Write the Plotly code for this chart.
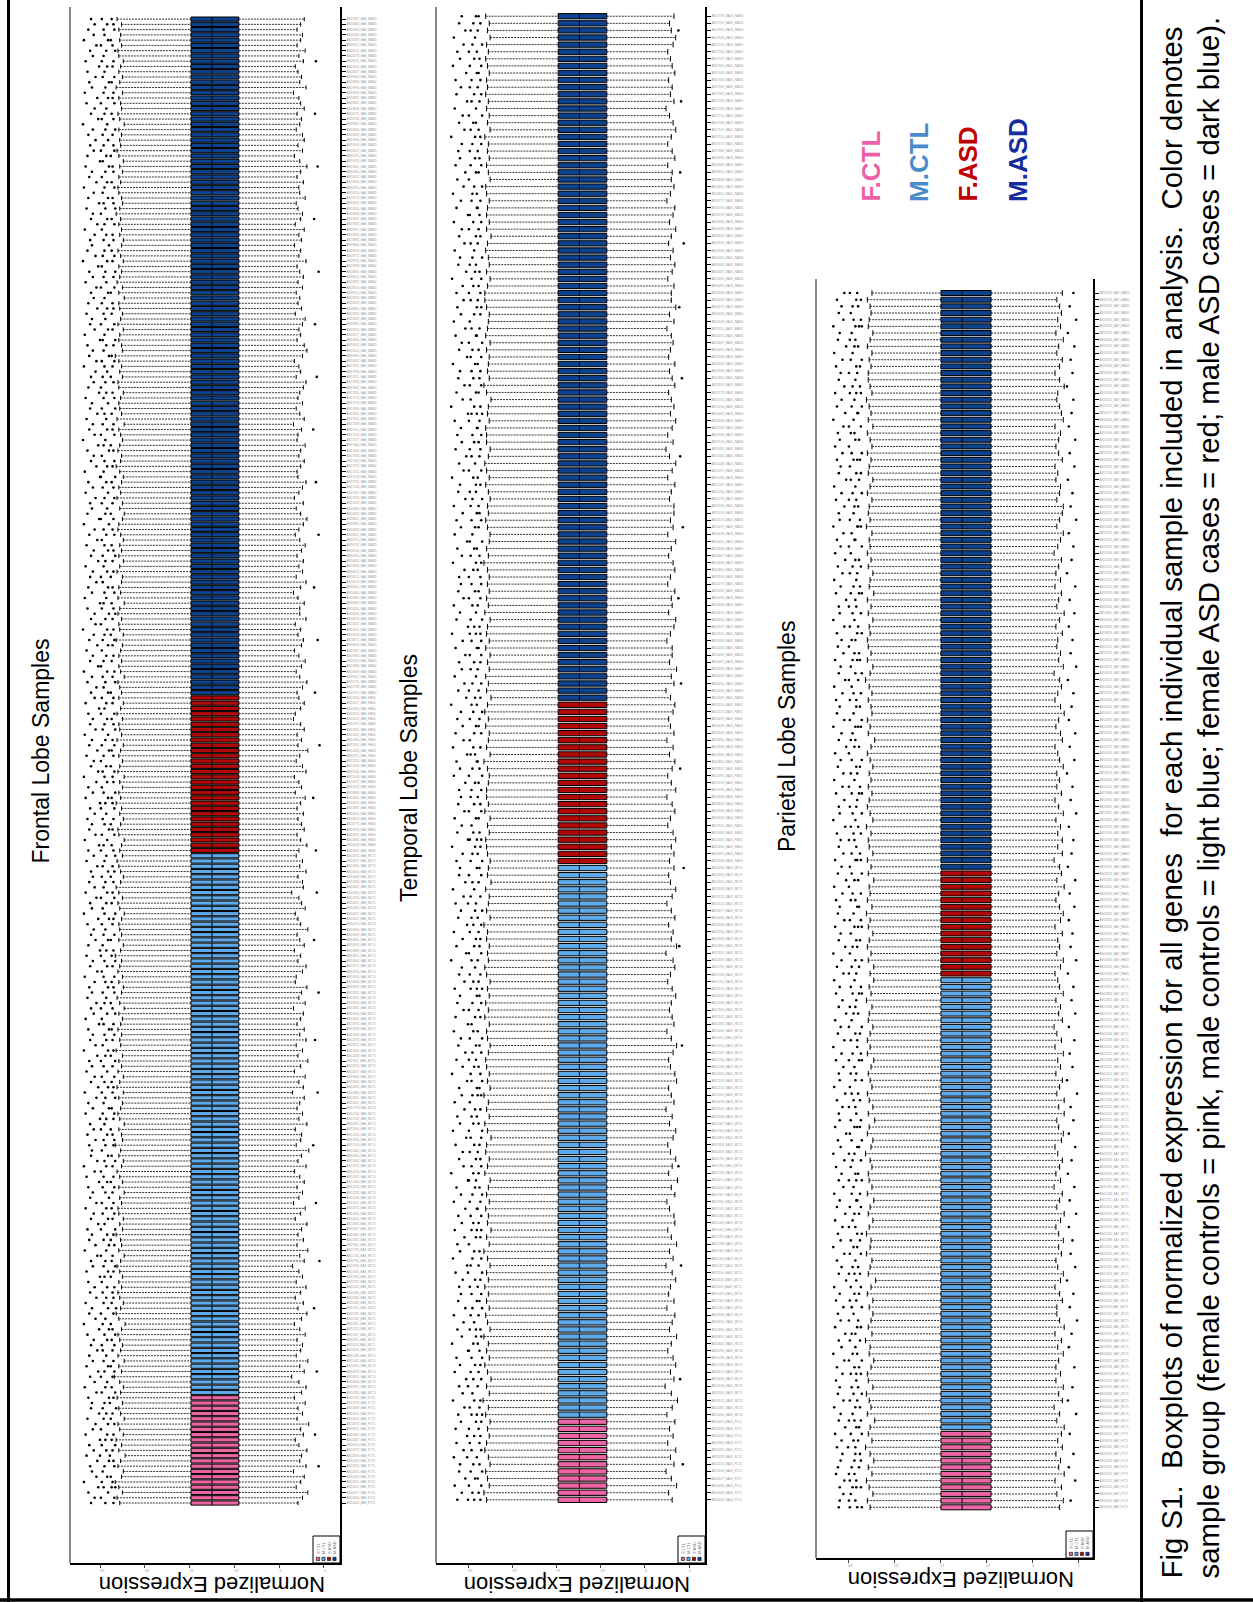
import plotly.graph_objects as go

W, H = 1253, 1602


def px(x):
    return x / W


def py(y):
    return 1 - y / H


GROUPS = ["F.CTL", "M.CTL", "F.ASD", "M.ASD"]
BOX_COLORS = {"F.CTL": "#EC64A4", "M.CTL": "#5DA9EA", "F.ASD": "#B20808", "M.ASD": "#0D428F"}
LABEL_COLORS = {"F.CTL": "#EE5FA8", "M.CTL": "#4A8CCB", "F.ASD": "#C00000", "M.ASD": "#142C9C"}
VALUE_TICKS = [0, 5, 10, 15, 20, 25]

PANEL_TITLES = ["Frontal Lobe Samples", "Temporal Lobe Samples", "Parietal Lobe Samples"]
REGION_CODES = ["BA9", "BA41", "BA7"]

# ---------------- Frontal ----------------
FRONTAL_COUNTS = [21, 103, 30, 129]
FRONTAL_BOX = [9.5, 12.5, 14.85]   # q1, median, q3
FRONTAL_UPPER = [
    22.8, 23.1, 22.5, 22.9, 23.3, 22.6, 22.4, 23.0, 22.7, 22.2,
    22.9, 22.6, 23.2, 22.4, 22.8, 23.0, 22.3, 22.7, 22.9, 22.5,
    23.1, 22.7, 22.4, 22.8, 23.4, 22.6, 22.9, 22.3, 23.0, 22.7,
    22.5, 22.8, 23.0, 22.6, 22.2, 22.9, 23.2, 22.7, 22.4, 22.8,
    23.0, 22.6, 22.9, 22.5, 22.8, 23.1, 22.7, 22.3, 22.9, 22.6,
    22.7, 23.2, 22.5, 22.8, 22.4, 22.9, 23.0, 22.6, 22.8, 22.3,
    22.9, 22.5, 22.8, 23.1, 22.6, 22.4, 22.9, 22.7, 23.3, 22.5,
    22.6, 22.9, 22.3, 22.8, 23.0, 22.7, 22.5, 22.9, 22.4, 23.1,
    22.8, 22.4, 23.0, 22.6, 22.9, 22.5, 23.2, 22.7, 22.8, 22.6,
    23.0, 22.7, 22.5, 22.9, 22.3, 22.8, 23.1, 22.6, 22.4, 22.9,
    22.5, 23.0, 22.8, 22.6, 23.3, 22.7, 22.4, 22.9, 22.6, 22.8,
    22.9, 22.6, 22.3, 22.8, 23.0, 22.5, 22.9, 23.2, 22.7, 22.4,
    22.7, 22.9, 23.1, 22.5, 22.8, 22.6, 22.3, 22.9, 23.0, 22.7,
    22.4, 22.8, 22.6, 23.2, 22.7, 22.9, 22.5, 22.8, 22.3, 23.0,
    22.8, 22.5, 22.9, 22.7, 22.4, 23.1, 22.6, 22.8, 22.9, 22.5,
    23.1, 22.7, 22.4, 22.9, 22.6, 22.8, 23.0, 22.3, 22.7, 22.9,
    22.6, 22.9, 22.7, 22.5, 23.2, 22.4, 22.8, 22.9, 22.6, 23.0,
    22.8, 22.3, 23.0, 22.7, 22.9, 22.6, 22.5, 23.1, 22.8, 22.4,
    22.9, 22.6, 22.8, 22.4, 22.7, 23.0, 22.9, 22.5, 22.3, 22.8,
    22.5, 23.1, 22.7, 22.9, 22.6, 22.4, 22.8, 23.2, 22.7, 22.6,
    23.0, 22.8, 22.5, 22.7, 22.9, 22.3, 23.1, 22.6, 22.8, 22.9,
    22.7, 22.4, 22.9, 23.0, 22.5, 22.8, 22.6, 22.9, 23.3, 22.5,
    22.6, 22.9, 22.8, 22.4, 23.0, 22.7, 22.5, 22.8, 22.9, 22.3,
    22.9, 22.5, 23.1, 22.8, 22.6, 22.9, 22.4, 22.7, 23.0, 22.6,
    22.4, 22.8, 22.6, 22.9, 22.7, 23.2, 22.8, 22.5, 22.6, 22.9,
    23.0, 22.7, 22.9, 22.5, 22.8, 22.4, 22.9, 23.1, 22.7, 22.8,
    22.6, 22.9, 22.3, 22.8, 23.0, 22.6, 22.7, 22.9, 22.5, 23.2,
    22.8, 22.5, 22.9, 22.7, 22.4, 22.9, 23.0, 22.6, 22.8, 22.7,
    22.9, 22.6, 23.1,
]
FRONTAL_LOWER = [
    2.9, 2.4, 1.8, 3.1, 2.6, 2.2, 3.4, 2.0, 2.7, 2.5,
    1.9, 2.8, 3.2, 2.3, 2.6, 1.7, 3.0, 2.4, 2.9, 2.1,
    3.3, 2.5, 2.0, 2.8, 3.6, 2.2, 2.7, 1.8, 3.1, 2.6,
    2.4, 3.0, 2.1, 2.7, 3.3, 2.5, 1.9, 2.9, 2.3, 3.2,
    2.6, 2.0, 3.1, 2.4, 2.8, 3.5, 2.2, 2.7, 1.8, 3.0,
    2.3, 2.9, 2.5, 1.9, 3.2, 2.6, 2.1, 3.4, 2.8, 2.4,
    3.0, 2.2, 2.7, 3.3, 2.0, 2.9, 2.5, 1.7, 3.1, 2.6,
    2.5, 3.2, 1.9, 2.8, 2.4, 3.0, 2.7, 2.2, 3.5, 2.3,
    2.8, 2.1, 3.3, 2.6, 1.8, 2.9, 2.4, 3.1, 2.0, 2.7,
    2.2, 3.0, 2.6, 2.3, 3.4, 2.1, 2.8, 2.5, 1.9, 3.2,
    3.1, 2.4, 2.0, 2.9, 2.6, 3.3, 2.2, 2.7, 3.0, 1.8,
    2.6, 2.9, 3.2, 2.1, 2.5, 2.8, 3.6, 2.3, 2.4, 2.9,
    2.0, 2.7, 2.4, 3.1, 2.8, 1.9, 2.6, 3.0, 2.2, 2.5,
    2.9, 2.3, 3.0, 2.6, 2.1, 3.2, 2.5, 2.8, 3.3, 2.0,
    2.4, 3.1, 2.7, 1.8, 2.9, 2.5, 3.0, 2.2, 2.6, 3.4,
    3.2, 2.6, 2.2, 2.8, 3.0, 2.4, 1.9, 2.7, 3.1, 2.5,
    2.1, 2.8, 3.3, 2.5, 2.3, 2.9, 2.6, 3.2, 2.0, 2.7,
    2.7, 2.2, 2.9, 3.4, 2.6, 2.0, 3.1, 2.4, 2.8, 2.3,
    3.0, 2.5, 2.1, 2.7, 3.2, 2.8, 2.3, 1.9, 2.6, 3.1,
    2.3, 3.3, 2.8, 2.4, 2.0, 2.9, 3.0, 2.6, 2.2, 2.8,
    2.6, 2.1, 3.0, 2.9, 2.5, 3.4, 2.2, 2.7, 3.1, 2.4,
    2.9, 2.7, 2.3, 2.0, 3.1, 2.6, 2.8, 3.3, 2.4, 1.9,
    2.2, 3.0, 2.6, 2.8, 2.4, 2.1, 3.2, 2.5, 2.9, 2.7,
    3.1, 2.4, 2.9, 2.3, 2.7, 3.0, 2.0, 2.8, 2.6, 3.3,
    2.5, 2.8, 2.2, 3.2, 2.6, 2.4, 2.9, 3.1, 2.1, 2.7,
    2.8, 2.3, 3.0, 2.6, 1.9, 2.7, 3.3, 2.4, 2.9, 2.2,
    2.4, 3.1, 2.7, 2.5, 3.0, 2.2, 2.6, 2.8, 3.4, 2.0,
    2.7, 2.5, 2.9, 3.2, 2.3, 2.8, 2.1, 3.0, 2.6, 2.4,
    3.0, 2.6, 2.2,
]
FRONTAL_OUTLIERS = [
    [26.0, 24.4, 23.5], [25.6, 24.9, 23.4], [26.3, 24.1], [25.2, 24.6, 23.7, 23.3], [26.8, 24.8, 23.6], [25.4, 24.2, 23.8], [25.9, 24.7], [26.1, 24.5, 23.4, 0.6], [25.3, 24.0, 23.5], [26.5, 25.0, 23.9],
    [25.7, 24.3, 23.6], [26.2, 24.8, 23.3], [25.0, 24.4, 23.7], [26.6, 24.2, 23.5, 1.0], [25.8, 24.9], [25.5, 24.1, 23.4], [26.4, 24.6, 23.8], [25.1, 24.3, 23.6], [26.0, 24.7, 23.2], [25.9, 24.5, 23.9],
    [26.3, 24.0, 23.5], [25.4, 24.8, 23.3], [26.7, 24.4, 23.7], [25.6, 24.2], [26.1, 24.9, 23.6], [25.2, 24.5, 23.4, 0.8], [26.5, 24.1, 23.8], [25.8, 24.6, 23.5], [26.2, 24.3], [25.3, 24.7, 23.6],
    [26.0, 24.8, 23.4], [25.7, 24.2, 23.7], [26.4, 24.5, 23.3], [25.1, 24.0, 23.6], [26.8, 24.7, 23.8], [25.5, 24.4], [26.2, 24.9, 23.5], [25.9, 24.1, 23.2, 1.1], [26.6, 24.6, 23.7], [25.4, 24.3, 23.5],
    [26.1, 24.7, 23.6], [25.6, 24.2, 23.4], [26.3, 24.8], [25.0, 24.5, 23.8], [26.5, 24.1, 23.5], [25.8, 24.6, 23.3], [26.0, 24.4, 23.7, 0.5], [25.3, 24.9, 23.6], [26.7, 24.3], [25.5, 24.0, 23.4],
    [26.2, 24.6, 23.8], [25.9, 24.2, 23.5], [26.4, 24.9, 23.3], [25.2, 24.5], [26.0, 24.1, 23.6], [25.7, 24.7, 23.4], [26.6, 24.3, 23.7], [25.4, 24.8, 23.5, 0.9], [26.1, 24.0], [25.8, 24.4, 23.6],
    [26.3, 24.7, 23.4], [25.1, 24.2, 23.8], [26.5, 24.6, 23.5], [25.6, 24.9], [26.8, 24.3, 23.6], [25.3, 24.5, 23.3], [26.0, 24.1, 23.7], [25.9, 24.8], [26.2, 24.4, 23.5, 1.2], [25.5, 24.6, 23.4],
    [26.4, 24.2, 23.6], [25.7, 24.9, 23.8], [26.1, 24.5], [25.0, 24.3, 23.5], [26.6, 24.7, 23.4], [25.8, 24.0, 23.7], [26.3, 24.6], [25.4, 24.4, 23.3], [26.7, 24.8, 23.6, 0.7], [25.2, 24.1, 23.5],
    [26.0, 24.5, 23.7], [25.6, 24.8, 23.4], [26.5, 24.2], [25.9, 24.6, 23.6], [26.2, 24.9, 23.3], [25.3, 24.4, 23.8], [26.8, 24.1, 23.5], [25.5, 24.7], [26.1, 24.3, 23.6, 1.0], [25.8, 24.5, 23.4],
    [26.3, 24.0, 23.7], [25.1, 24.6, 23.5], [26.6, 24.8], [25.7, 24.2, 23.3], [26.0, 24.9, 23.6], [25.4, 24.5, 23.8], [26.4, 24.3], [25.9, 24.7, 23.4, 0.6], [26.2, 24.1, 23.5], [25.6, 24.4, 23.7],
    [26.7, 24.6, 23.4], [25.3, 24.8], [26.1, 24.2, 23.6], [25.8, 24.5, 23.3], [26.5, 24.9, 23.7], [25.0, 24.3, 23.5], [26.3, 24.7], [25.5, 24.1, 23.8, 1.1], [26.0, 24.6, 23.4], [25.7, 24.4],
    [26.4, 24.8, 23.6], [25.2, 24.0, 23.5], [26.8, 24.5, 23.3], [25.9, 24.7], [26.1, 24.3, 23.7], [25.4, 24.9, 23.4], [26.6, 24.2, 23.6, 0.8], [25.6, 24.6], [26.2, 24.4, 23.5], [25.8, 24.8, 23.8],
    [26.0, 24.1, 23.4], [25.3, 24.7, 23.6], [26.5, 24.5], [25.7, 24.3, 23.3], [26.3, 24.9, 23.5, 0.9], [25.1, 24.6, 23.7], [26.7, 24.2], [25.5, 24.8, 23.4], [26.2, 24.0, 23.6], [25.9, 24.5, 23.8],
    [26.4, 24.7, 23.5], [25.6, 24.3], [26.1, 24.9, 23.4], [25.0, 24.4, 23.6], [26.6, 24.1, 23.7, 1.2], [25.8, 24.6, 23.3], [26.3, 24.8], [25.4, 24.2, 23.5], [26.8, 24.5, 23.6], [25.2, 24.7, 23.4],
    [26.0, 24.3, 23.8], [25.7, 24.9], [26.5, 24.6, 23.5], [25.3, 24.0, 23.7], [26.2, 24.8, 23.4, 0.5], [25.9, 24.4, 23.6], [26.7, 24.1], [25.5, 24.7, 23.3], [26.1, 24.5, 23.5], [25.8, 24.2, 23.7],
    [26.3, 24.9, 23.4], [25.1, 24.5], [26.6, 24.3, 23.6], [25.6, 24.8, 23.5], [26.0, 24.1, 23.8, 1.0], [25.4, 24.6], [26.4, 24.4, 23.3], [25.9, 24.7, 23.6], [26.8, 24.2, 23.4], [25.2, 24.9],
    [26.1, 24.6, 23.7], [25.8, 24.3, 23.5], [26.5, 24.8], [25.3, 24.1, 23.6], [26.2, 24.7, 23.4, 0.7], [25.7, 24.5, 23.8], [26.9, 24.2, 23.5], [25.5, 24.9], [26.0, 24.4, 23.6], [25.6, 24.0, 23.3],
    [26.4, 24.8, 23.5], [25.0, 24.6, 23.7], [26.7, 24.3], [25.9, 24.5, 23.4], [26.3, 24.1, 23.6, 1.1], [25.4, 24.7], [26.1, 24.9, 23.8], [25.8, 24.2, 23.5], [26.6, 24.6], [25.2, 24.4, 23.6],
    [26.0, 24.7, 23.3], [25.7, 24.1, 23.5], [26.5, 24.5, 23.7], [25.3, 24.8], [26.2, 24.3, 23.4, 0.6], [25.6, 24.6, 23.6], [26.8, 24.0], [25.1, 24.9, 23.5], [26.4, 24.4, 23.8], [25.9, 24.2],
    [26.1, 24.8, 23.6], [25.5, 24.5, 23.4], [26.6, 24.1], [25.8, 24.7, 23.5], [26.3, 24.3, 23.7, 0.9], [25.0, 24.9, 23.3], [26.7, 24.6], [25.4, 24.2, 23.6], [26.0, 24.5, 23.4], [25.7, 24.8],
    [26.4, 24.0, 23.5], [25.2, 24.6, 23.8], [26.9, 24.4], [25.6, 24.9, 23.4], [26.2, 24.2, 23.6, 1.2], [25.8, 24.7, 23.5], [26.5, 24.3], [25.3, 24.5, 23.7], [26.1, 24.8, 23.3], [25.9, 24.1],
    [26.6, 24.6, 23.4], [25.1, 24.3, 23.6], [26.3, 24.9], [25.7, 24.4, 23.5], [26.0, 24.7, 23.8, 0.8], [25.5, 24.2], [26.8, 24.5, 23.6], [25.4, 24.8, 23.4], [26.2, 24.0, 23.7], [25.8, 24.6],
    [26.4, 24.3, 23.5], [25.0, 24.7, 23.3], [26.7, 24.5], [25.6, 24.1, 23.6], [26.1, 24.9, 23.4, 1.0], [25.9, 24.4], [26.5, 24.6, 23.7], [25.3, 24.2, 23.5], [26.3, 24.8, 23.6], [25.7, 24.5],
    [26.0, 24.1, 23.8], [25.4, 24.9, 23.4], [26.6, 24.3], [25.8, 24.6, 23.5], [26.2, 24.4, 23.3, 0.6], [25.2, 24.8], [26.9, 24.2, 23.6], [25.5, 24.7, 23.4], [26.4, 24.5, 23.7], [25.9, 24.0],
    [26.1, 24.6, 23.5], [25.6, 24.3, 23.6], [26.7, 24.8], [25.3, 24.5, 23.4], [26.0, 24.2, 23.7, 1.1], [25.8, 24.9], [26.5, 24.4, 23.3], [25.1, 24.6, 23.5], [26.3, 24.1, 23.6], [25.7, 24.7],
    [26.8, 24.5, 23.4], [25.4, 24.2, 23.7], [26.2, 24.8], [25.9, 24.4, 23.5], [26.6, 24.0, 23.6, 0.7], [25.0, 24.7], [26.4, 24.3, 23.8], [25.7, 24.9, 23.4], [26.1, 24.6, 23.5], [25.5, 24.1],
    [26.3, 24.7, 23.6], [25.8, 24.4, 23.3], [26.9, 24.2], [25.2, 24.8, 23.5], [26.0, 24.5, 23.7, 1.0], [25.6, 24.3], [26.5, 24.9, 23.4], [25.3, 24.1, 23.6], [26.7, 24.6, 23.5], [25.9, 24.4],
    [26.2, 24.0, 23.7], [25.5, 24.7, 23.4], [26.4, 24.5], [25.1, 24.2, 23.6], [26.6, 24.8, 23.5, 0.9], [25.8, 24.6], [26.1, 24.3, 23.3], [25.4, 24.9, 23.6], [26.8, 24.1, 23.8], [25.7, 24.5],
    [26.3, 24.6, 23.4], [25.6, 24.2, 23.5], [26.0, 24.8, 23.7],
]

# ---------------- Temporal ----------------
TEMPORAL_COUNTS = [12, 78, 23, 97]
TEMPORAL_BOX = [9.3, 12.4, 14.8]
TEMPORAL_UPPER = [
    22.9, 23.2, 22.6, 22.8, 23.0, 22.5, 22.7, 23.1, 22.9, 22.6,
    22.8, 22.5, 23.0, 22.7, 23.3, 22.6, 22.9, 22.4, 22.8, 23.1,
    22.6, 22.9, 22.7, 23.2, 22.5, 22.8, 23.0, 22.6, 22.9, 22.7,
    23.1, 22.7, 22.9, 22.5, 22.8, 23.2, 22.6, 22.9, 22.4, 22.8,
    22.7, 23.0, 22.6, 22.9, 22.7, 22.5, 23.1, 22.8, 22.6, 23.0,
    22.9, 22.4, 22.8, 23.1, 22.6, 22.9, 22.7, 23.2, 22.5, 22.8,
    22.6, 22.9, 23.0, 22.7, 22.5, 22.8, 22.9, 22.6, 23.1, 22.7,
    23.0, 22.6, 22.8, 22.5, 22.9, 23.1, 22.7, 22.8, 22.6, 22.9,
    22.8, 23.2, 22.5, 22.9, 22.7, 22.6, 23.0, 22.4, 22.8, 22.7,
    22.5, 22.8, 22.9, 23.0, 22.6, 22.8, 22.5, 23.1, 22.7, 22.9,
    22.9, 22.7, 22.6, 22.8, 23.2, 22.5, 22.9, 22.7, 22.6, 23.0,
    22.7, 23.1, 22.8, 22.4, 22.9, 22.7, 23.0, 22.6, 22.8, 22.5,
    23.0, 22.6, 22.9, 22.8, 22.5, 23.1, 22.7, 22.9, 22.6, 22.8,
    22.6, 22.8, 23.2, 22.7, 22.9, 22.6, 22.5, 22.8, 23.0, 22.7,
    22.8, 22.5, 22.7, 23.0, 22.6, 22.9, 23.1, 22.7, 22.5, 22.9,
    22.9, 23.0, 22.6, 22.8, 22.7, 22.4, 22.9, 23.2, 22.6, 22.8,
    22.7, 22.6, 22.9, 22.5, 23.0, 22.8, 22.7, 22.6, 22.9, 23.1,
    23.1, 22.8, 22.5, 22.9, 22.6, 22.7, 23.0, 22.8, 22.4, 22.9,
    22.6, 22.9, 22.8, 22.6, 22.9, 23.0, 22.5, 22.7, 22.9, 22.6,
    22.8, 22.7, 23.1, 22.5, 22.8, 22.6, 22.9, 22.7, 23.0, 22.8,
    22.9, 22.6, 22.8, 23.0, 22.7, 22.9, 22.5, 22.8, 22.6, 23.0,
]
TEMPORAL_LOWER = [
    1.9, 2.3, 1.4, 2.0, 2.6, 1.7, 2.1, 1.5, 2.4, 1.8,
    2.2, 1.6, 2.5, 1.9, 1.3, 2.0, 2.7, 1.7, 2.1, 1.5,
    1.8, 2.4, 2.0, 1.4, 2.2, 1.9, 1.6, 2.5, 1.7, 2.3,
    2.1, 1.5, 1.9, 2.6, 1.8, 2.2, 1.4, 2.0, 2.4, 1.6,
    1.7, 2.2, 2.5, 1.6, 2.0, 1.3, 2.3, 1.9, 1.5, 2.1,
    2.4, 1.8, 1.5, 2.2, 1.9, 2.6, 1.7, 2.0, 2.3, 1.4,
    1.6, 2.1, 2.3, 1.8, 1.4, 2.0, 2.5, 1.7, 1.9, 2.2,
    2.0, 1.5, 1.9, 2.4, 2.1, 1.6, 1.8, 2.6, 1.4, 2.0,
    1.8, 2.3, 1.6, 2.0, 2.5, 1.9, 1.5, 2.1, 2.3, 1.7,
    2.2, 1.7, 2.0, 1.5, 1.8, 2.4, 2.1, 1.6, 1.9, 2.5,
    1.5, 2.0, 2.4, 1.9, 1.6, 2.2, 1.8, 2.5, 1.7, 2.1,
    2.3, 1.8, 1.6, 2.1, 2.6, 1.7, 2.0, 1.4, 2.2, 1.9,
    1.9, 2.5, 2.1, 1.7, 1.5, 2.3, 1.9, 2.0, 1.6, 2.4,
    2.1, 1.6, 1.8, 2.3, 2.0, 1.5, 2.4, 1.8, 2.1, 1.7,
    1.7, 2.2, 2.0, 1.6, 2.4, 1.9, 1.5, 2.2, 2.6, 1.8,
    2.4, 1.9, 1.5, 2.1, 1.7, 2.0, 2.3, 1.6, 1.9, 2.2,
    1.6, 2.3, 2.1, 1.8, 2.0, 2.5, 1.7, 2.2, 1.5, 2.0,
    2.0, 1.7, 2.4, 1.9, 1.6, 2.1, 1.8, 2.3, 2.0, 1.5,
    2.2, 1.8, 1.6, 2.5, 2.1, 1.7, 2.0, 1.9, 2.4, 1.6,
    1.9, 2.4, 2.0, 1.5, 1.8, 2.2, 2.6, 1.7, 2.1, 1.9,
    2.3, 1.6, 1.9, 2.1, 2.4, 1.8, 1.5, 2.0, 2.2, 1.7,
]
TEMPORAL_OUTLIERS = [
    [26.2, 25.0, 24.3, 23.6], [25.7, 24.5, 23.8], [26.5, 24.9, 23.5], [25.3, 24.2, 23.9], [26.0, 24.7, 23.4], [25.9, 24.4, 23.7, 0.7], [26.6, 25.1, 24.0], [25.5, 24.6, 23.5], [26.3, 24.8, 23.7], [25.1, 24.3, 23.6],
    [26.4, 24.9, 23.8], [25.8, 24.1, 23.5], [26.1, 24.6, 24.0, 23.4], [25.4, 24.8, 23.7], [26.7, 24.3, 23.6], [25.6, 24.5], [26.0, 25.0, 23.9], [25.2, 24.4, 23.5, 1.0], [26.5, 24.7, 23.8], [25.9, 24.2, 23.6],
    [26.3, 24.6, 23.4], [25.0, 24.9, 23.7], [26.8, 24.4, 23.9], [25.7, 24.1, 23.5], [26.2, 24.8, 24.1, 23.6], [25.5, 24.3], [26.6, 24.7, 23.8], [25.3, 24.5, 23.4], [26.1, 24.0, 23.7], [25.8, 24.6, 23.5],
    [26.0, 24.8, 23.9], [25.6, 24.2, 23.6], [26.4, 25.0, 23.4], [25.1, 24.7, 23.8, 0.9], [26.7, 24.5, 23.5], [25.9, 24.3, 23.7], [26.2, 24.9], [25.4, 24.1, 23.6], [26.5, 24.6, 24.0, 23.5], [25.7, 24.4, 23.8],
    [26.1, 24.7, 23.5], [25.3, 24.0, 23.9], [26.6, 24.8, 23.6], [25.8, 24.5, 23.4], [26.3, 24.2, 23.7], [25.0, 24.9, 24.1], [26.9, 24.4, 23.8], [25.5, 24.6, 23.5, 1.2], [26.0, 24.1, 23.6], [25.6, 24.8, 23.9],
    [26.4, 24.3, 23.7], [25.2, 24.7, 23.5], [26.7, 24.9, 23.4], [25.9, 24.4, 23.8], [26.2, 24.6, 24.0], [25.4, 24.2, 23.6], [26.5, 24.8], [25.7, 24.5, 23.9, 23.5], [26.0, 24.0, 23.7], [25.1, 24.6, 23.4],
    [26.8, 24.7, 23.6], [25.6, 24.3, 23.8], [26.3, 24.9, 24.1], [25.3, 24.5, 23.5], [26.1, 24.1, 23.7, 0.8], [25.8, 24.8, 23.4], [26.6, 24.4, 23.9], [25.0, 24.6], [26.4, 24.2, 23.6], [25.5, 24.9, 23.8],
    [26.2, 24.5, 23.5], [25.9, 24.0, 23.7], [26.5, 24.7, 24.0, 23.4], [25.4, 24.4, 23.8], [26.0, 24.8, 23.6], [25.7, 24.2], [26.9, 24.6, 23.9], [25.2, 24.9, 23.5], [26.3, 24.3, 23.7, 1.1], [25.6, 24.1, 23.6],
    [26.6, 24.8, 23.8], [25.1, 24.4, 23.5], [26.1, 24.6, 23.9], [25.8, 24.2, 23.4], [26.4, 25.0, 24.1], [25.5, 24.7, 23.6], [26.7, 24.3], [25.3, 24.5, 23.8], [26.0, 24.9, 23.5], [25.9, 24.0, 23.7, 0.6],
    [26.3, 24.7, 23.4], [25.6, 24.5, 23.9], [26.8, 24.2, 23.6], [25.0, 24.8, 24.0, 23.5], [26.2, 24.4, 23.7], [25.7, 24.6], [26.5, 24.1, 23.8], [25.4, 24.9, 23.5], [26.1, 24.3, 23.6], [25.8, 24.7, 23.9],
    [26.0, 24.6, 23.5], [25.3, 24.2, 23.8], [26.6, 24.9, 23.4], [25.9, 24.5, 23.7, 1.0], [26.3, 24.0, 23.9], [25.1, 24.7, 24.2], [26.7, 24.4, 23.6], [25.5, 24.8], [26.4, 24.3, 23.5], [25.6, 24.1, 23.8],
    [26.2, 24.8, 23.7], [25.8, 24.4, 23.4], [26.9, 24.6, 24.0], [25.2, 24.2, 23.6], [26.1, 24.9, 23.8], [25.4, 24.5, 23.5, 0.9], [26.5, 24.1], [25.7, 24.7, 23.9], [26.0, 24.3, 23.6], [25.3, 24.8, 23.5],
    [26.4, 24.0, 23.8], [25.6, 24.6, 23.5], [26.8, 24.8, 24.1, 23.6], [25.0, 24.3, 23.7], [26.3, 24.7, 23.4], [25.9, 24.1], [26.6, 24.5, 23.9], [25.5, 24.9, 23.6, 1.2], [26.1, 24.2, 23.8], [25.8, 24.6, 23.5],
    [26.0, 24.9, 23.6], [25.4, 24.4, 23.9], [26.7, 24.1, 23.5], [25.7, 24.7, 23.7], [26.2, 24.3, 24.0], [25.1, 24.8, 23.4], [26.5, 24.5], [25.8, 24.2, 23.8, 0.7], [26.3, 24.6, 23.5], [25.6, 24.0, 23.7],
    [26.6, 24.7, 23.8], [25.3, 24.5, 23.4], [26.1, 24.8, 24.1], [25.9, 24.1, 23.6], [26.8, 24.4, 23.9], [25.5, 24.9, 23.5], [26.0, 24.2], [25.2, 24.6, 23.7, 1.0], [26.4, 24.8, 23.6], [25.7, 24.3, 23.8],
    [26.2, 24.5, 23.5], [25.8, 24.0, 23.9], [26.5, 24.9, 23.7], [25.0, 24.6, 24.0, 23.4], [26.9, 24.3, 23.6], [25.6, 24.7], [26.3, 24.1, 23.8], [25.4, 24.8, 23.5], [26.1, 24.4, 23.7, 0.8], [25.9, 24.6, 23.6],
    [26.7, 24.2, 23.9], [25.1, 24.7, 23.5], [26.0, 24.5, 23.8], [25.7, 24.9, 23.4], [26.4, 24.1, 24.0], [25.3, 24.6, 23.7], [26.6, 24.8], [25.8, 24.3, 23.6], [26.2, 24.0, 23.5, 1.1], [25.5, 24.7, 23.9],
    [26.3, 24.9, 23.6], [25.6, 24.4, 23.8], [26.8, 24.6, 23.5], [25.2, 24.2, 23.7], [26.1, 24.8, 24.1], [25.9, 24.5, 23.4], [26.5, 24.3], [25.4, 24.7, 23.9, 0.6], [26.0, 24.1, 23.6], [25.7, 24.9, 23.8],
    [26.6, 24.4, 23.5], [25.0, 24.8, 23.7], [26.3, 24.0, 23.9], [25.8, 24.6, 23.6], [26.7, 24.5, 24.0], [25.5, 24.3, 23.4], [26.2, 24.9], [25.3, 24.1, 23.8, 1.0], [26.4, 24.7, 23.5], [25.9, 24.2, 23.7],
    [26.1, 24.8, 23.9], [25.7, 24.5, 23.5], [26.9, 24.2, 23.6], [25.4, 24.7, 23.8], [26.0, 24.4, 24.1], [25.6, 24.9, 23.4], [26.5, 24.1], [25.1, 24.6, 23.7, 0.9], [26.3, 24.3, 23.5], [25.8, 24.8, 23.9],
    [26.4, 24.6, 23.6], [25.2, 24.0, 23.8], [26.7, 24.8, 23.5], [25.9, 24.3, 23.7], [26.2, 24.9, 24.0], [25.5, 24.5, 23.4], [26.6, 24.2], [25.3, 24.7, 23.9, 1.2], [26.0, 24.4, 23.6], [25.7, 24.1, 23.8],
]

# ---------------- Parietal ----------------
PARIETAL_COUNTS = [12, 68, 16, 87]
PARIETAL_BOX = [9.45, 12.6, 14.9]
PARIETAL_UPPER = [
    22.6, 22.9, 22.3, 22.7, 23.0, 22.4, 22.8, 22.2, 22.6, 23.1,
    22.4, 22.8, 22.6, 22.1, 22.9, 22.5, 22.7, 23.0, 22.3, 22.8,
    22.9, 22.5, 22.2, 22.7, 22.6, 23.1, 22.4, 22.8, 22.5, 22.3,
    22.7, 22.3, 22.9, 22.5, 22.0, 22.8, 22.6, 22.4, 23.0, 22.6,
    22.5, 23.0, 22.7, 22.3, 22.8, 22.6, 22.2, 22.9, 22.4, 22.7,
    22.8, 22.4, 22.6, 23.1, 22.5, 22.3, 22.9, 22.7, 22.1, 22.8,
    22.3, 22.7, 22.9, 22.4, 22.6, 22.8, 22.5, 22.2, 22.9, 22.6,
    22.9, 22.6, 22.3, 22.8, 22.7, 22.4, 23.0, 22.5, 22.7, 22.2,
    22.6, 22.2, 22.8, 22.5, 22.9, 22.7, 22.3, 22.8, 22.6, 23.0,
    22.4, 22.9, 22.6, 22.7, 22.2, 22.8, 22.5, 22.9, 22.3, 22.7,
    22.8, 22.5, 23.0, 22.3, 22.6, 22.9, 22.7, 22.4, 22.8, 22.5,
    22.7, 22.3, 22.6, 22.9, 22.5, 22.1, 22.8, 22.6, 22.9, 22.4,
    22.5, 22.8, 22.4, 22.7, 23.1, 22.6, 22.3, 22.9, 22.5, 22.8,
    22.9, 22.6, 22.7, 22.3, 22.8, 22.5, 22.9, 22.2, 22.7, 22.6,
    22.3, 22.8, 22.5, 22.9, 22.6, 22.7, 22.4, 23.0, 22.6, 22.8,
    22.7, 22.4, 22.9, 22.6, 22.3, 22.8, 22.7, 22.5, 22.9, 22.4,
    22.6, 22.9, 22.3, 22.8, 22.5, 22.7, 23.0, 22.4, 22.6, 22.8,
    22.8, 22.5, 22.7, 22.4, 22.9, 22.6, 22.3, 22.8, 22.7, 22.5,
    22.6, 22.9, 22.4,
]
PARIETAL_LOWER = [
    2.0, 1.6, 2.3, 1.8, 2.5, 1.5, 2.1, 1.9, 2.4, 1.7,
    2.2, 1.8, 1.5, 2.3, 2.0, 2.6, 1.7, 2.1, 1.6, 2.4,
    1.9, 2.4, 2.1, 1.6, 2.2, 1.8, 2.5, 1.5, 2.0, 2.3,
    2.3, 1.7, 2.0, 2.5, 1.9, 1.6, 2.2, 2.4, 1.8, 2.1,
    1.6, 2.1, 2.4, 1.9, 1.5, 2.3, 2.0, 1.7, 2.6, 1.9,
    2.4, 2.0, 1.7, 2.2, 2.5, 1.8, 1.6, 2.1, 2.3, 1.5,
    2.1, 1.5, 2.3, 2.0, 1.7, 2.4, 1.9, 2.2, 1.6, 2.5,
    1.8, 2.3, 2.6, 1.7, 2.1, 1.9, 2.4, 1.6, 2.0, 2.2,
    2.5, 1.9, 1.6, 2.3, 2.0, 2.2, 1.7, 2.5, 1.9, 1.6,
    2.0, 2.4, 2.1, 1.5, 2.3, 1.8, 2.0, 2.6, 1.7, 2.2,
    1.7, 2.2, 1.9, 2.4, 1.6, 2.1, 2.5, 1.8, 2.3, 2.0,
    2.3, 1.6, 2.0, 2.2, 2.5, 1.7, 1.9, 2.4, 2.1, 1.5,
    1.9, 2.5, 2.2, 1.8, 2.0, 2.6, 1.6, 2.1, 1.9, 2.3,
    2.2, 1.7, 2.4, 2.0, 1.5, 2.3, 2.1, 1.8, 2.5, 1.9,
    2.4, 2.1, 1.8, 2.6, 2.2, 1.9, 1.6, 2.3, 2.0, 1.7,
    1.6, 2.3, 2.0, 1.9, 2.4, 2.2, 2.5, 1.7, 2.1, 2.4,
    2.1, 1.9, 2.5, 1.6, 1.8, 2.0, 2.3, 2.2, 1.5, 2.0,
    2.5, 2.0, 1.7, 2.3, 2.1, 1.6, 2.4, 1.9, 2.2, 1.8,
    2.0, 2.3, 1.7,
]
PARIETAL_OUTLIERS = [
    [26.0, 24.8, 24.0, 23.5], [25.9, 24.9, 24.2, 0.8], [25.5, 24.7], [25.9, 24.5, 24.1, 23.6], [25.4, 24.8, 24.1, 0.3], [26.3, 24.9, 24.3], [26.1, 24.6, 23.8, 1.0], [25.8, 24.3, 23.6], [25.6, 24.2, 23.7, 0.5], [26.2, 25.0, 24.2],
    [25.7, 24.4, 23.9], [26.4, 24.7, 23.5, 0.9], [25.3, 24.1, 23.8], [26.0, 24.9, 24.3, 23.6], [25.8, 24.5, 0.2], [26.5, 24.2, 23.7], [25.5, 24.8, 24.0, 1.1], [26.1, 24.4, 23.5], [25.9, 24.6, 23.9, 0.6], [26.3, 24.1],
    [25.6, 24.7, 24.1, 23.6], [26.2, 24.3, 23.8, 0.4], [25.4, 24.9, 23.5], [26.6, 24.5, 24.0], [25.7, 24.2, 1.0], [26.0, 24.8, 23.7], [25.3, 24.6, 24.2, 0.7], [26.4, 24.0, 23.6], [25.8, 24.9, 23.9, 0.1], [26.1, 24.4],
    [25.5, 24.6, 23.5, 0.9], [26.3, 24.8, 24.1], [25.9, 24.3, 23.8, 0.5], [26.5, 24.7, 23.6], [25.2, 24.1, 1.2], [26.0, 24.9, 24.3, 23.7], [25.7, 24.5, 23.9, 0.3], [26.2, 24.2], [25.4, 24.8, 23.6, 0.8], [26.6, 24.4, 24.0],
    [25.8, 24.7, 23.7, 0.6], [26.1, 24.0, 23.5], [25.6, 24.9, 24.2, 1.0], [26.4, 24.5], [25.3, 24.3, 23.8, 0.2], [26.2, 24.8, 23.6], [25.9, 24.1, 24.0, 0.9], [26.5, 24.6, 23.7], [25.5, 24.4, 0.4], [26.0, 24.9, 24.1, 23.5],
    [25.7, 24.2, 23.9, 1.1], [26.3, 24.7], [25.4, 24.5, 23.6, 0.7], [26.6, 24.9, 24.3], [25.8, 24.0, 23.8, 0.3], [26.1, 24.6, 23.5], [25.2, 24.8, 1.0], [26.4, 24.3, 24.0, 23.7], [25.9, 24.7, 23.6, 0.5], [26.0, 24.1],
    [25.6, 24.9, 24.2, 0.8], [26.2, 24.4, 23.7], [25.3, 24.6, 23.9, 0.1], [26.5, 24.8], [25.9, 24.2, 23.5, 1.2], [26.0, 24.7, 24.1], [25.5, 24.3, 0.6], [26.3, 24.9, 23.8, 23.5], [25.7, 24.5, 23.6, 0.9], [26.6, 24.0],
    [25.4, 24.7, 24.0, 0.4], [26.1, 24.2, 23.7], [25.8, 24.9, 23.5, 1.0], [26.4, 24.6], [25.2, 24.4, 23.9, 0.3], [26.0, 24.8, 24.2], [25.6, 24.1, 0.7], [26.3, 24.5, 23.8, 23.5], [25.9, 24.7, 23.6, 0.5], [26.5, 24.3],
    [25.5, 24.9, 24.1, 1.1], [26.2, 24.6, 23.8], [25.7, 24.2, 23.5, 0.2], [26.6, 24.8], [25.3, 24.5, 24.0, 0.8], [26.0, 24.1, 23.7], [25.8, 24.7, 0.6], [26.4, 24.3, 23.9, 23.5], [25.4, 24.8, 23.6, 1.0], [26.1, 24.4],
    [25.9, 24.0, 23.8, 0.4], [26.3, 24.7, 24.2], [25.6, 24.5, 23.6, 0.9], [26.5, 24.9], [25.2, 24.3, 23.9, 0.3], [26.1, 24.6, 23.5], [25.7, 24.8, 1.1], [26.4, 24.2, 24.0, 23.6], [25.5, 24.6, 23.7, 0.7], [26.0, 24.1],
    [25.8, 24.9, 24.3, 0.5], [26.2, 24.4, 23.6], [25.3, 24.7, 23.9, 1.0], [26.6, 24.2], [25.9, 24.5, 23.5, 0.2], [26.0, 24.8, 24.1], [25.4, 24.0, 0.8], [26.3, 24.6, 23.8, 23.5], [25.6, 24.9, 23.7, 0.6], [26.5, 24.3],
    [25.5, 24.7, 24.0, 1.2], [26.1, 24.1, 23.7], [25.8, 24.6, 23.5, 0.4], [26.4, 24.9], [25.2, 24.3, 23.8, 0.9], [26.0, 24.7, 24.2], [25.7, 24.5, 0.3], [26.6, 24.2, 23.9, 23.6], [25.4, 24.8, 23.5, 1.0], [26.2, 24.4],
    [25.9, 24.1, 23.7, 0.7], [26.3, 24.8, 24.1], [25.6, 24.4, 23.6, 0.5], [26.5, 24.6], [25.3, 24.9, 23.9, 1.1], [26.0, 24.2, 23.5], [25.8, 24.7, 0.2], [26.4, 24.5, 24.0, 23.7], [25.5, 24.3, 23.8, 0.8], [26.1, 24.9],
    [25.7, 24.6, 24.2, 0.6], [26.2, 24.0, 23.5], [25.4, 24.8, 23.9, 1.0], [26.6, 24.3], [25.9, 24.5, 23.6, 0.4], [26.0, 24.9, 24.1], [25.2, 24.2, 0.9], [26.3, 24.7, 23.8, 23.5], [25.8, 24.4, 23.7, 0.3], [26.5, 24.1],
    [25.6, 24.8, 24.0, 1.2], [26.1, 24.5, 23.6], [25.3, 24.2, 23.8, 0.7], [26.4, 24.7], [25.8, 24.9, 23.5, 0.5], [26.2, 24.3, 24.2], [25.5, 24.6, 1.0], [26.6, 24.0, 23.9, 23.6], [25.9, 24.8, 23.7, 0.2], [26.0, 24.4],
    [25.4, 24.3, 23.9, 0.8], [26.3, 24.9, 24.1], [25.7, 24.5, 23.5, 0.6], [26.5, 24.2], [25.2, 24.7, 23.8, 1.1], [26.0, 24.1, 23.6], [25.8, 24.8, 0.4], [26.2, 24.4, 24.0, 23.7], [25.6, 24.6, 23.5, 0.9], [26.4, 24.9],
    [25.9, 24.2, 23.8, 0.3], [26.1, 24.7, 24.3], [25.5, 24.9, 23.6, 1.0], [26.6, 24.4], [25.3, 24.0, 23.9, 0.7], [26.2, 24.6, 23.5], [25.7, 24.3, 0.5], [26.4, 24.8, 24.1, 23.6], [25.4, 24.5, 23.7, 1.2], [26.0, 24.2],
    [25.8, 24.9, 24.0, 0.6], [26.3, 24.1, 23.7], [25.6, 24.7, 23.5, 0.8], [26.5, 24.5], [25.2, 24.3, 23.9, 0.4], [26.1, 24.8, 24.2], [25.9, 24.6, 1.1], [26.6, 24.2, 23.8, 23.5], [25.5, 24.4, 23.6, 0.2], [26.0, 24.7],
    [25.7, 24.5, 23.9, 0.9], [26.2, 24.1, 23.6], [25.4, 24.8, 24.0, 0.5],
]

CAPTION_LINE_1 = "Fig S1. Boxplots of normalized expression for all genes for each individual sample included in analysis. Color denotes"
CAPTION_LINE_2 = "sample group (female controls = pink, male controls = light blue; female ASD cases = red; male ASD cases = dark blue)."

# --------------- layout geometry (pixels) ---------------
PANELS = [
    dict(title=PANEL_TITLES[0], region=REGION_CODES[0], counts=FRONTAL_COUNTS, box=FRONTAL_BOX,
         upper=FRONTAL_UPPER, lower=FRONTAL_LOWER, outliers=FRONTAL_OUTLIERS,
         left=70, right=340, top=7, bottom=1563, xr=[28.35, -1.79], yr=[-11.4, 284.3],
         bw=0.8, cap=3, title_xy=(40.5, 751)),
    dict(title=PANEL_TITLES[1], region=REGION_CODES[1], counts=TEMPORAL_COUNTS, box=TEMPORAL_BOX,
         upper=TEMPORAL_UPPER, lower=TEMPORAL_LOWER, outliers=TEMPORAL_OUTLIERS,
         left=436, right=705, top=7, bottom=1563, xr=[28.62, -1.81], yr=[-8.9, 210.3],
         bw=0.75, cap=4, title_xy=(409, 778)),
    dict(title=PANEL_TITLES[2], region=REGION_CODES[2], counts=PARIETAL_COUNTS, box=PARIETAL_BOX,
         upper=PARIETAL_UPPER, lower=PARIETAL_LOWER, outliers=PARIETAL_OUTLIERS,
         left=816, right=1093, top=279, bottom=1558, xr=[28.48, -1.63], yr=[-7.6, 184.1],
         bw=0.75, cap=4, title_xy=(787, 737)),
]

fig = go.Figure()
shapes = []
annotations = []
layout_axes = {}

for k, P in enumerate(PANELS, start=1):
    sfx = "" if k == 1 else str(k)
    xa, ya = "x" + sfx, "y" + sfx
    names = []
    for g, n in zip(GROUPS, P["counts"]):
        for i in range(n):
            names.append("AN%05d_%s_%s" % (10000 + len(names) * 37 + k * 3, P["region"], g.replace(".", "")))
    n_all = min(len(names), len(P["upper"]), len(P["lower"]), len(P["outliers"]))
    q1, med, q3 = P["box"]

    # boxes (one trace per group)
    start = 0
    for g, n in zip(GROUPS, P["counts"]):
        ys = names[start:start + n]
        fig.add_trace(go.Box(
            orientation="h", y=ys,
            q1=[q1] * n, median=[med] * n, q3=[q3] * n,
            lowerfence=[q1] * n, upperfence=[q3] * n,
            fillcolor=BOX_COLORS[g], line=dict(color="black", width=1),
            width=P["bw"], boxpoints=False, whiskerwidth=0,
            xaxis=xa, yaxis=ya, showlegend=False, hoverinfo="skip"))
        start += n

    # whiskers (dashed)
    wx, wy = [], []
    for nm, u, l in zip(names[:n_all], P["upper"][:n_all], P["lower"][:n_all]):
        wx += [u, q3, None, q1, l, None]
        wy += [nm, nm, None, nm, nm, None]
    fig.add_trace(go.Scatter(x=wx, y=wy, mode="lines", xaxis=xa, yaxis=ya,
                             line=dict(color="black", width=0.8, dash="2px,1px"),
                             showlegend=False, hoverinfo="skip"))
    # whisker staples
    fig.add_trace(go.Scatter(x=P["upper"][:n_all] + P["lower"][:n_all], y=names[:n_all] * 2,
                             mode="markers", xaxis=xa, yaxis=ya,
                             marker=dict(symbol="line-ns", size=P["cap"], color="black",
                                         line=dict(color="black", width=1)),
                             showlegend=False, hoverinfo="skip"))
    # outliers
    ox, oy = [], []
    for nm, pts in zip(names[:n_all], P["outliers"][:n_all]):
        ox += pts
        oy += [nm] * len(pts)
    fig.add_trace(go.Scatter(x=ox, y=oy, mode="markers", xaxis=xa, yaxis=ya,
                             marker=dict(symbol="circle", size=2.6, color="black"),
                             showlegend=False, hoverinfo="skip"))

    layout_axes["xaxis" + sfx] = dict(
        domain=[px(P["left"]), px(P["right"])], range=P["xr"], anchor=ya,
        tickmode="array", tickvals=VALUE_TICKS, ticktext=[str(v) for v in VALUE_TICKS],
        ticks="outside", ticklen=3, tickwidth=1, tickcolor="#444",
        tickfont=dict(size=4, color="#999"), tickangle=180,
        showline=True, linecolor="black", linewidth=2, mirror=False,
        showgrid=False, zeroline=False, fixedrange=True)
    layout_axes["yaxis" + sfx] = dict(
        domain=[py(P["bottom"]), py(P["top"])], range=P["yr"], anchor=xa,
        type="category", categoryorder="array", categoryarray=names,
        side="right", tickmode="array", tickvals=names, ticktext=names,
        ticks="outside", ticklen=4, tickwidth=1, tickcolor="black",
        tickfont=dict(size=3, color="#9a9a9a"),
        showline=True, linecolor="black", linewidth=2,
        showgrid=False, zeroline=False, fixedrange=True)

    # gray left frame line
    shapes.append(dict(type="line", xref="paper", yref="paper",
                       x0=px(P["left"]), x1=px(P["left"]), y0=py(P["top"]), y1=py(P["bottom"]),
                       line=dict(color="#8a8a8a", width=2)))

    # "Normalized Expression" (upside down, below the value axis)
    annotations.append(dict(text="Normalized Expression", xref="paper", yref="paper",
                            x=px((P["left"] + P["right"]) / 2 + 7), y=py(P["bottom"] + 22),
                            xanchor="center", yanchor="middle", textangle=180, showarrow=False,
                            font=dict(size=22, color="black")))
    # panel title
    tx, ty = P["title_xy"]
    annotations.append(dict(text=P["title"], xref="paper", yref="paper", x=px(tx), y=py(ty),
                            xanchor="center", yanchor="middle", textangle=-90, showarrow=False,
                            font=dict(size=23, color="black")))

    # small in-plot legend box (bottom-right corner)
    R, B = P["right"], P["bottom"]
    shapes.append(dict(type="rect", xref="paper", yref="paper",
                       x0=px(R - 27), x1=px(R), y0=py(B), y1=py(B - 27),
                       line=dict(color="black", width=1), fillcolor="white"))
    for g, off in zip(GROUPS, [22, 16.5, 11, 5.5]):
        cx = R - off
        shapes.append(dict(type="rect", xref="paper", yref="paper",
                           x0=px(cx - 1.6), x1=px(cx + 1.6), y0=py(B - 2.5), y1=py(B - 5.7),
                           line=dict(color="black", width=0.6), fillcolor=BOX_COLORS[g]))
        annotations.append(dict(text=g, xref="paper", yref="paper", x=px(cx), y=py(B - 8),
                                xanchor="center", yanchor="bottom", textangle=-90, showarrow=False,
                                font=dict(size=4, color="#777"), borderpad=0))

# big colour key
for g, cx in zip(GROUPS, [871, 919, 968, 1018]):
    annotations.append(dict(text="<b>%s</b>" % g, xref="paper", yref="paper", x=px(cx), y=py(203),
                            xanchor="center", yanchor="bottom", textangle=-90, showarrow=False,
                            font=dict(size=26, color=LABEL_COLORS[g]), borderpad=0))

# caption (first line slightly widened at three gaps)
NB = "\u00a0"
w1 = CAPTION_LINE_1.split(" ")
cap1 = ""
for i, w in enumerate(w1):
    cap1 += w
    if i < len(w1) - 1:
        cap1 += " " + (NB if i in (1, 8, 15) else "")
cap2 = CAPTION_LINE_2
for txt, cx in [(cap1, 1170.5), (cap2, 1207.5)]:
    annotations.append(dict(text=txt, xref="paper", yref="paper", x=px(cx), y=py(1580),
                            xanchor="center", yanchor="bottom", textangle=-90, showarrow=False,
                            font=dict(size=29.4, color="black"), borderpad=0))

# page border lines
shapes.append(dict(type="line", xref="paper", yref="paper", x0=px(8.5), x1=px(8.5), y0=0, y1=1,
                   line=dict(color="black", width=3)))
shapes.append(dict(type="line", xref="paper", yref="paper", x0=px(1141.5), x1=px(1141.5), y0=0, y1=1,
                   line=dict(color="black", width=3)))
shapes.append(dict(type="line", xref="paper", yref="paper", x0=0, x1=1, y0=py(1600), y1=py(1600),
                   line=dict(color="black", width=3.5)))

fig.update_layout(
    width=W, height=H, margin=dict(l=0, r=0, t=0, b=0),
    paper_bgcolor="white", plot_bgcolor="white",
    font=dict(family="Liberation Sans, Arial, sans-serif", color="black"),
    boxmode="overlay", showlegend=False,
    shapes=shapes, annotations=annotations,
    **layout_axes,
)

fig.write_html("out.html")
